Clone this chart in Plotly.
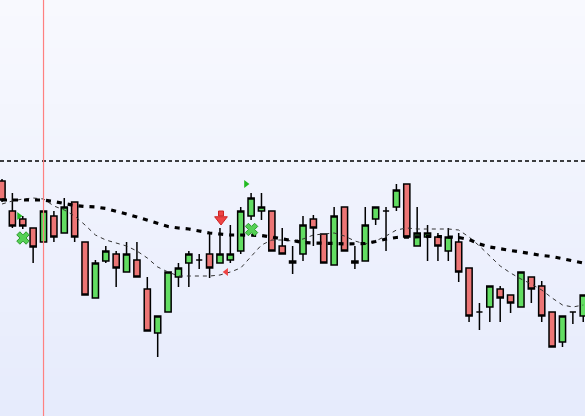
import plotly.graph_objects as go

# ---- data (price units) ----
idx = list(range(57))
open_ = [235, 205, 197, 188, 174, 200, 183, 214, 174, 118,
         155, 162, 144, 156, 127, 83, 104, 139, 153, 156,
         162, 153, 156, 165, 200, 205, 205, 170, 153, 162,
         197, 182, 151, 209, 155, 155, 197, 205, 209, 232,
         170, 179, 179, 165, 174, 148, 104, 109, 127, 121,
         109, 139, 130, 104, 74, 104, 100]
high = [237, 223, 200, 188, 205, 205, 218, 214, 174, 156,
        170, 165, 174, 174, 139, 100, 144, 153, 165, 162,
        183, 188, 191, 209, 223, 223, 205, 188, 170, 200,
        201, 182, 209, 209, 170, 209, 209, 209, 232, 232,
        209, 191, 183, 188, 183, 148, 113, 130, 130, 121,
        144, 139, 135, 104, 100, 104, 121]
low = [214, 188, 187, 153, 174, 174, 183, 174, 121, 118,
       153, 129, 144, 139, 85, 59, 104, 129, 129, 147,
       138, 153, 153, 162, 196, 196, 165, 162, 142, 155,
       170, 153, 151, 165, 147, 155, 191, 165, 205, 179,
       170, 155, 155, 155, 134, 94, 86, 94, 94, 103,
       109, 113, 94, 69, 69, 92, 94]
close = [216, 190, 190, 169, 205, 179, 209, 179, 121, 153,
         165, 148, 162, 139, 85, 100, 144, 148, 162, 156,
         148, 162, 162, 205, 218, 209, 165, 162, 155, 191,
         188, 153, 200, 165, 153, 191, 209, 205, 226, 179,
         183, 183, 170, 179, 144, 100, 104, 130, 118, 113,
         144, 127, 100, 69, 100, 104, 121]

ma_slow = [216, 216, 216, 215.5, 216, 214.5, 212.5, 210.5, 209.5, 209,
           207.5, 205, 202, 199, 196, 193, 189.5, 188, 187, 185,
           183, 182, 181, 181, 181, 180.5, 179, 177, 175, 173.5,
           173, 173, 172.5, 172, 172, 172.5, 174.5, 177, 178.5, 179,
           179, 179.5, 179.5, 179, 178.5, 176.5, 172, 169, 167, 165.5,
           164, 162, 160.5, 159.5, 157.5, 155, 153]
ma_fast = [212, 215, 217, 218, 217, 210, 206, 200, 191, 181,
           176, 173, 170, 165, 158, 149, 144, 140, 140, 140,
           140, 141, 144, 148, 160, 171, 176, 176, 175, 177,
           181, 182, 183, 180, 175, 172, 175, 180, 186, 188,
           187, 187, 187, 187, 186, 179, 170, 160, 150, 143,
           137, 132, 126, 118, 111, 109, 111]

level_price = 255
vline_idx = 4

buy_tri_x = [1.64, 23.5]
buy_tri_y = [200, 232]
buy_x_x = [2.02, 24.04]
buy_x_y = [178, 186.5]
sell_arrow_x = [21.1]
sell_arrow_head_y = [196.5]
sell_arrow_shaft_y = [202.5]
sell_tri_x = [21.6]
sell_tri_y = [144]

# ---- figure ----
fig = go.Figure()
fig.add_trace(go.Candlestick(
    x=idx, open=open_, high=high, low=low, close=close,
    increasing=dict(fillcolor="#62dd62", line=dict(color="black", width=1.5)),
    decreasing=dict(fillcolor="#ec7575", line=dict(color="black", width=1.5)),
    whiskerwidth=0, showlegend=False, hoverinfo="skip"))

fig.add_trace(go.Scatter(x=idx, y=ma_fast, mode="lines",
                         line=dict(color="#333333", width=1, dash="4px,4px"),
                         showlegend=False, hoverinfo="skip"))
fig.add_trace(go.Scatter(x=idx, y=ma_slow, mode="lines",
                         line=dict(color="black", width=3.2, dash="5px,6px"),
                         showlegend=False, hoverinfo="skip"))

fig.add_trace(go.Scatter(x=buy_tri_x, y=buy_tri_y, mode="markers",
                         marker=dict(symbol="triangle-right", size=7, color="#22bb22",
                                     line=dict(width=0)),
                         showlegend=False, hoverinfo="skip"))
fig.add_trace(go.Scatter(x=buy_x_x, y=buy_x_y, mode="markers",
                         marker=dict(symbol="x", size=11, color="#55d055",
                                     line=dict(width=1, color="#2a9a2a")),
                         showlegend=False, hoverinfo="skip"))
fig.add_trace(go.Scatter(x=sell_arrow_x, y=sell_arrow_shaft_y, mode="markers",
                         marker=dict(symbol="square", size=5, color="#ee4444",
                                     line=dict(width=1, color="#cc2222")),
                         showlegend=False, hoverinfo="skip"))
fig.add_trace(go.Scatter(x=sell_arrow_x, y=sell_arrow_head_y, mode="markers",
                         marker=dict(symbol="triangle-down", size=11, color="#ee4444",
                                     line=dict(width=1, color="#cc2222")),
                         showlegend=False, hoverinfo="skip"))
fig.add_trace(go.Scatter(x=sell_tri_x, y=sell_tri_y, mode="markers",
                         marker=dict(symbol="triangle-left", size=7, color="#ee4444",
                                     line=dict(width=0)),
                         showlegend=False, hoverinfo="skip"))

# background gradient bands
shapes = []
n = 52
top = (248, 249, 254)
bot = (230, 235, 252)
for k in range(n):
    t = k / (n - 1)
    c = tuple(round(top[j] + (bot[j] - top[j]) * t) for j in range(3))
    shapes.append(dict(type="rect", xref="paper", yref="paper",
                       x0=0, x1=1, y1=1 - k / n, y0=1 - (k + 1) / n - 0.001,
                       fillcolor="rgb(%d,%d,%d)" % c, line=dict(width=0), layer="below"))
shapes.append(dict(type="line", xref="paper", yref="y", x0=0, x1=1,
                   y0=level_price, y1=level_price,
                   line=dict(color="black", width=1.5, dash="4px,3px"), layer="above"))
shapes.append(dict(type="line", xref="x", yref="paper", x0=vline_idx, x1=vline_idx,
                   y0=0, y1=1, line=dict(color="#ff8080", width=1.2), layer="above"))

fig.update_layout(
    width=585, height=416,
    margin=dict(l=0, r=0, t=0, b=0),
    paper_bgcolor="rgb(248,249,254)", plot_bgcolor="rgb(248,249,254)",
    shapes=shapes, boxgap=0.15,
    xaxis=dict(range=[-0.193, 56.17], visible=False, rangeslider=dict(visible=False),
               showgrid=False, zeroline=False),
    yaxis=dict(range=[0, 416], visible=False, showgrid=False, zeroline=False),
)

fig.write_html("out.html",
               config={"displayModeBar": False, "staticPlot": True},
               post_script="document.body.style.margin='0';document.body.style.overflow='hidden';")
